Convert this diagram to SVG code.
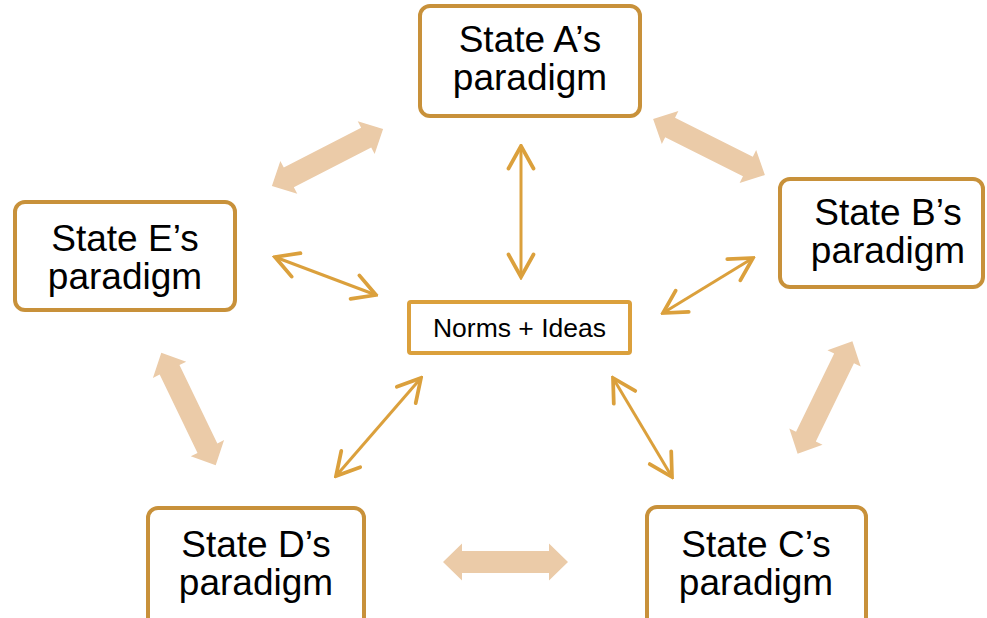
<svg xmlns="http://www.w3.org/2000/svg" width="987" height="618" viewBox="0 0 987 618">
  <style>
    .state rect { fill: #ffffff; stroke: #C8913A; stroke-width: 4; }
    .hub rect { fill: #ffffff; stroke: #DBA03C; stroke-width: 4; }
    .label { font-family: "Liberation Sans", Arial, sans-serif; font-size: 37px; fill: #000000; text-anchor: middle; }
    .hub-label { font-family: "Liberation Sans", Arial, sans-serif; font-size: 26.5px; fill: #000000; text-anchor: middle; }
    .thin { fill: none; stroke: #DBA03C; stroke-width: 3; marker-start: url(#chev); marker-end: url(#chev); }
    .thick { fill: #EBCBA8; }
  </style>
  <defs>
    <marker id="chev" markerUnits="userSpaceOnUse" markerWidth="30" markerHeight="30" viewBox="-22 -12 24 24" refX="0" refY="0" orient="auto-start-reverse">
      <polyline points="-18,-10 0,0 -18,10" fill="none" stroke="#DBA03C" stroke-width="3" stroke-linecap="round" stroke-linejoin="miter"/>
    </marker>
    <!-- double-headed block arrow, 125 long, centred on the origin -->
    <path id="block" d="M-62.5,0 L-43.5,-18.5 L-43.5,-11 L43.5,-11 L43.5,-18.5 L62.5,0 L43.5,18.5 L43.5,11 L-43.5,11 L-43.5,18.5 Z"/>
  </defs>

  <!-- block arrows between neighbouring states -->
  <g id="block-arrows" class="thick">
    <use href="#block" transform="translate(327.5,157.5) rotate(-27.2)"/>
    <use href="#block" transform="translate(709,147) rotate(26.6)"/>
    <use href="#block" transform="translate(825,397.5) rotate(-64)"/>
    <use href="#block" transform="translate(188.5,409) rotate(64.2)"/>
    <use href="#block" transform="translate(505.5,562)"/>
  </g>

  <!-- thin arrows to the central node -->
  <g id="connectors">
    <line class="thin" x1="521" y1="146" x2="521" y2="277"/>
    <line class="thin" x1="275" y1="257" x2="376" y2="295"/>
    <line class="thin" x1="753" y1="258" x2="663" y2="313"/>
    <line class="thin" x1="421" y1="378" x2="336" y2="476"/>
    <line class="thin" x1="613" y1="378" x2="672" y2="477"/>
  </g>

  <g id="state-a" class="state">
    <rect x="420" y="6" width="220" height="110" rx="10"/>
    <text class="label" x="530" y="52">State A’s</text>
    <text class="label" x="530" y="90">paradigm</text>
  </g>
  <g id="state-b" class="state">
    <rect x="780" y="179" width="203" height="108" rx="10"/>
    <text class="label" x="888" y="225">State B’s</text>
    <text class="label" x="888" y="263">paradigm</text>
  </g>
  <g id="state-c" class="state">
    <rect x="647" y="507" width="219" height="120" rx="10"/>
    <text class="label" x="756" y="557">State C’s</text>
    <text class="label" x="756" y="595">paradigm</text>
  </g>
  <g id="state-d" class="state">
    <rect x="148" y="508" width="216" height="120" rx="10"/>
    <text class="label" x="256" y="557">State D’s</text>
    <text class="label" x="256" y="595">paradigm</text>
  </g>
  <g id="state-e" class="state">
    <rect x="15" y="202" width="220" height="108" rx="10"/>
    <text class="label" x="125" y="251">State E’s</text>
    <text class="label" x="125" y="289">paradigm</text>
  </g>
  <g id="norms-ideas" class="hub">
    <rect x="409" y="302" width="221" height="51" rx="2"/>
    <text class="hub-label" x="519.5" y="337">Norms + Ideas</text>
  </g>
</svg>
